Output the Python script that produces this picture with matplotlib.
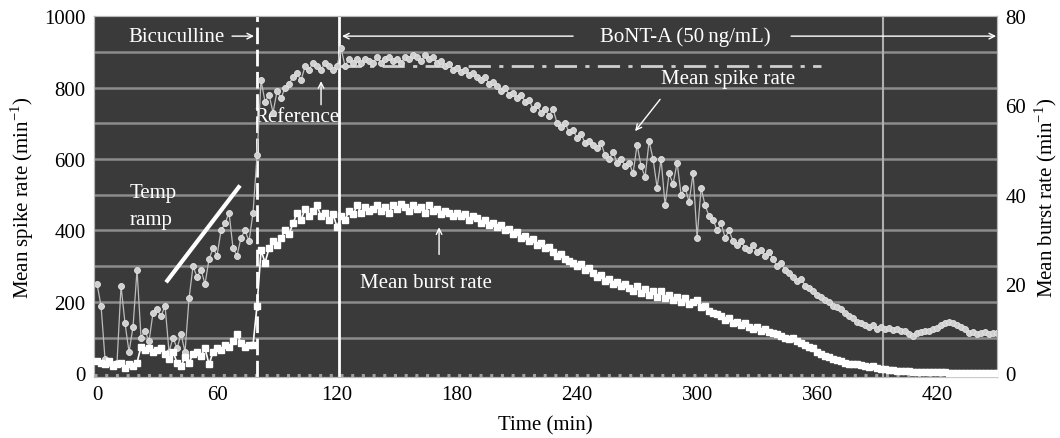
import numpy as np
import matplotlib
matplotlib.use('Agg')
import matplotlib.pyplot as plt

plt.rcParams['font.family'] = ['Liberation Serif', 'DejaVu Serif']
plt.rcParams['mathtext.fontset'] = 'custom'
plt.rcParams['mathtext.rm'] = 'Liberation Serif'

# sampling grid, minutes
time_min = np.arange(0, 451, 2)

# mean spike rate (min^-1), left axis
spike_rate = [
    250, 190, 40, 30, 25, 30, 245, 140, 60, 130,
    290, 100, 120, 90, 170, 180, 160, 190, 60, 100,
    70, 110, 60, 210, 300, 270, 290, 250, 320, 350,
    330, 400, 420, 450, 350, 330, 380, 400, 370, 450,
    610, 820, 760, 780, 730, 790, 770, 800, 810, 830,
    840, 820, 860, 850, 870, 860, 850, 870, 860, 850,
    860, 910, 860, 880, 870, 880, 870, 880, 875, 870,
    885, 870, 880, 885, 875, 880, 870, 885, 880, 890,
    885, 875, 890, 880, 885, 870, 875, 860, 865, 850,
    855, 845, 850, 835, 840, 830, 820, 830, 810, 815,
    805, 790, 800, 780, 785, 770, 780, 760, 765, 740,
    750, 730, 740, 720, 740, 700, 690, 700, 675, 680,
    660, 670, 645, 650, 640, 630, 645, 610, 600, 620,
    590, 600, 580, 590, 560, 640, 580, 550, 650, 600,
    520, 600, 470, 560, 530, 590, 500, 520, 480, 560,
    380, 520, 470, 440, 430, 400, 420, 380, 400, 370,
    360, 370, 350, 345, 360, 340, 345, 330, 340, 320,
    300, 310, 290, 280, 270, 260, 265, 245, 240, 230,
    220, 215, 205, 200, 190, 185, 180, 170, 160, 155,
    145, 140, 135, 130, 135, 125, 130, 125, 128, 122,
    125, 120, 118, 110, 105, 112, 115, 118, 120, 125,
    128, 135, 140, 145, 140, 135, 130, 125, 112, 115,
    110, 112, 115, 110, 112, 112,
]

# mean burst rate (min^-1), right axis
burst_rate = [
    2.8, 2.4, 2.0, 2.8, 1.6, 2.0, 2.4, 1.2, 2.0, 1.6,
    2.4, 6.0, 5.2, 5.6, 4.8, 5.2, 5.6, 4.4, 3.2, 4.8,
    2.4, 1.6, 3.6, 2.4, 4.4, 4.8, 4.0, 5.6, 2.0, 4.8,
    5.6, 5.2, 6.4, 6.0, 7.2, 8.8, 6.8, 6.0, 6.4, 6.4,
    15.2, 27.6, 24.8, 28.0, 29.6, 28.8, 30.4, 32.0, 31.2, 33.6,
    36.0, 34.4, 36.8, 35.2, 36.4, 37.6, 35.2, 36.0, 34.4, 35.6,
    32.8, 35.2, 34.4, 36.4, 35.6, 37.6, 36.0, 37.2, 36.4, 36.8,
    37.6, 36.4, 37.2, 36.0, 37.6, 36.8, 38.0, 37.2, 36.4, 37.6,
    36.8, 37.2, 36.0, 37.6, 36.4, 36.8, 35.6, 36.4, 36.0, 35.2,
    36.0, 35.2, 35.6, 34.4, 35.2, 34.8, 33.6, 34.4, 33.2, 33.6,
    32.8, 33.2, 32.0, 32.4, 31.2, 31.6, 30.4, 30.8, 29.6, 30.0,
    28.8, 29.2, 28.0, 28.4, 27.2, 26.4, 26.8, 25.6, 25.2, 24.8,
    24.0, 24.4, 23.2, 23.6, 22.4, 21.6, 22.0, 20.8, 21.2, 20.0,
    20.4, 19.6, 20.0, 19.2, 18.4, 19.6, 18.0, 18.8, 17.6, 18.4,
    17.2, 18.4, 16.8, 17.6, 16.4, 17.2, 16.0, 16.8, 15.6, 16.0,
    16.4, 14.8, 15.2, 14.0, 13.6, 13.2, 12.8, 12.0, 12.4, 11.2,
    11.6, 10.8, 11.2, 10.4, 10.0, 10.4, 9.6, 10.0, 9.2, 9.0,
    8.8, 8.4, 8.0, 7.6, 8.0, 7.2, 6.8, 6.4, 6.0, 5.6,
    4.8, 4.4, 4.0, 3.6, 3.2, 3.0, 2.8, 2.4, 2.2, 2.0,
    2.0, 1.8, 1.6, 1.4, 1.6, 1.2, 1.0, 1.0, 0.8, 0.8,
    0.6, 0.6, 0.5, 0.5, 0.4, 0.4, 0.4, 0.3, 0.3, 0.3,
    0.3, 0.3, 0.3, 0.2, 0.2, 0.2, 0.2, 0.2, 0.2, 0.2,
    0.2, 0.2, 0.2, 0.2, 0.2, 0.2,
]

x_ticks = [0, 60, 120, 180, 240, 300, 360, 420]
spike_ticks = [0, 200, 400, 600, 800, 1000]
burst_ticks = [0, 20, 40, 60, 80]

bicuculline_t = 80
bont_t = 121
late_t = 393
reference_level = 860

fontsize = 15
bg = '#3a3a3a'

fig = plt.figure(figsize=(10.6, 4.39), dpi=100)
ax = fig.add_axes([0.0887, 0.139, 0.852, 0.822])
ax.set_facecolor(bg)

ax.set_xlim(-1.5, 450)
ax.set_ylim(-10, 1000)
for y in range(100, 1000, 100):
    ax.axhline(y, color='#8c8c8c', lw=1.8, zorder=1)
ax.axhline(-4, color='#a0a0a0', lw=2.2, ls=(0, (1, 2.5)), zorder=1)

ax.axvline(bicuculline_t, color='white', lw=2, ls=(0, (6, 2)), zorder=2)
ax.axvline(bont_t, color='white', lw=2, zorder=2)
ax.axvline(late_t, color='#b0b0b0', lw=1.5, zorder=2)
ax.plot([bont_t, 362], [reference_level, reference_level], color='#cfcfcf', lw=2,
        ls=(0, (8, 3, 1.5, 3)), zorder=2)

ax.plot(time_min, spike_rate, color='#bdbdbd', lw=0.9, marker='o', ms=4.3,
        mfc='#d0d0d0', mec='#e6e6e6', mew=0.6, zorder=4)

ax2 = ax.twinx()
ax2.set_ylim(-0.8, 80)
ax2.plot(time_min, burst_rate, color='white', lw=1.2, marker='s', ms=4.5,
         mfc='white', mec='white', zorder=5)

# annotations
txt = dict(color='white', fontsize=fontsize)
arr = dict(arrowstyle='->', color='white', lw=1.0, shrinkA=0, shrinkB=0)
ax.text(15.5, 944, 'Bicuculline', va='center', ha='left', **txt)
ax.annotate('', xy=(78.5, 944), xytext=(67.5, 944), arrowprops=arr)
ax.annotate('', xy=(122.5, 944), xytext=(238, 944), arrowprops=arr)
ax.text(294, 944, 'BoNT-A (50\u2009ng/mL)', va='center', ha='center', **txt)
ax.annotate('', xy=(449.5, 944), xytext=(347, 944), arrowprops=arr)

ax.text(16.5, 468, 'Temp\nramp', va='center', ha='left', linespacing=1.55, **txt)
ax.plot([34.5, 71.5], [255, 526], color='white', lw=3, solid_capstyle='butt', zorder=3)

ax.text(100, 718, 'Reference', va='center', ha='center', **txt)
ax.annotate('', xy=(112, 818), xytext=(112, 752), arrowprops=arr)

ax.text(282, 825, 'Mean spike rate', va='center', ha='left', **txt)
ax.annotate('', xy=(269, 678), xytext=(281.5, 767), arrowprops=arr)

ax.text(131.5, 255, 'Mean burst rate', va='center', ha='left', **txt)
ax.annotate('', xy=(171, 409), xytext=(171, 333), arrowprops=arr)

ax.set_xticks(x_ticks)
ax.set_yticks(spike_ticks)
ax2.set_yticks(burst_ticks)
ax.tick_params(length=0, labelsize=fontsize, pad=6)
ax2.tick_params(length=0, labelsize=fontsize, pad=6)
ax.set_xlabel('Time (min)', fontsize=fontsize, labelpad=8)
ax.set_ylabel('Mean spike rate (min$^{-1}$)', fontsize=fontsize, labelpad=6)
ax2.set_ylabel('Mean burst rate (min$^{-1}$)', fontsize=fontsize, labelpad=4)

for a in (ax, ax2):
    for s in a.spines.values():
        s.set_color('#b8b8b8')
        s.set_linewidth(0.8)

plt.savefig('out.png', dpi=100)
